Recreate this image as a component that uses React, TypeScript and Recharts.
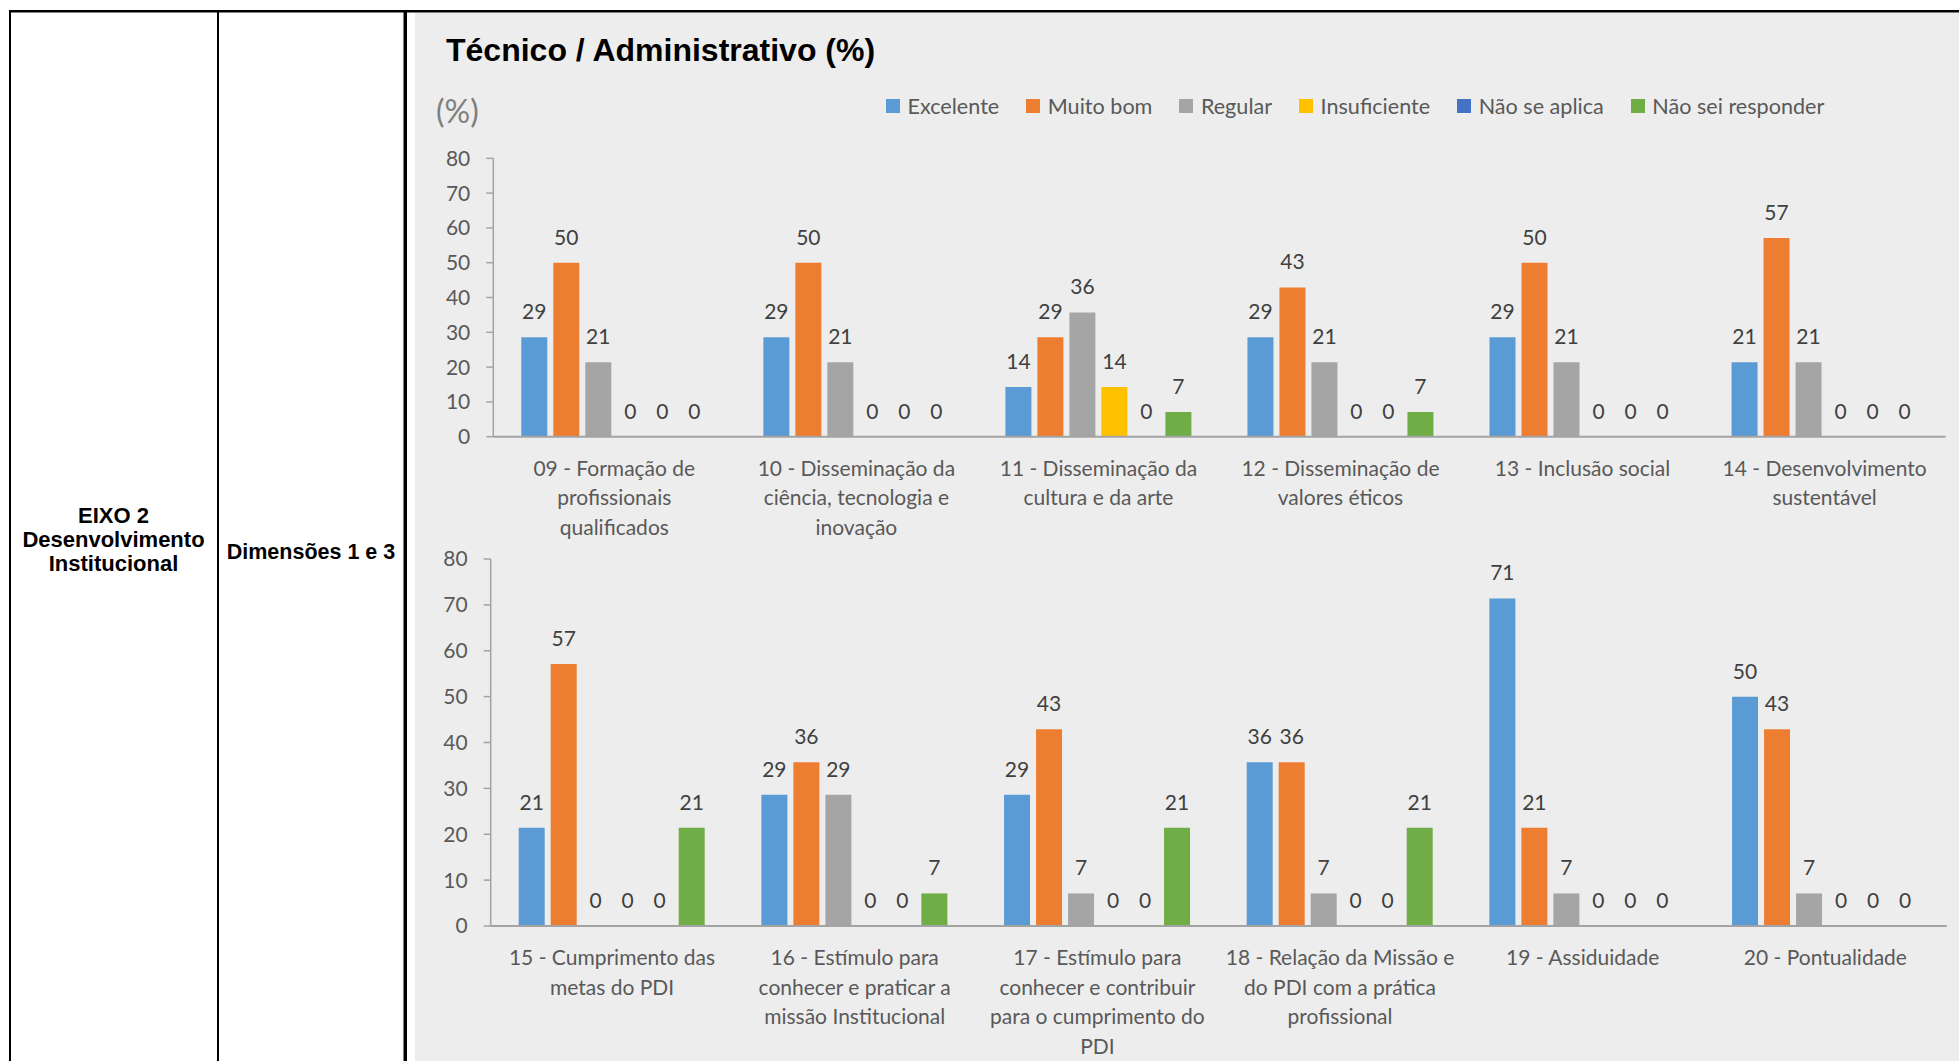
import {
  BarChart,
  Bar,
  XAxis,
  YAxis,
  LabelList,
  Legend,
} from "recharts";

// Série / categorias (em %)
const seriesKeys = ["excelente", "muitoBom", "regular", "insuficiente", "naoAplica", "naoSei"];
const seriesNames = ["Excelente", "Muito bom", "Regular", "Insuficiente", "Não se aplica", "Não sei responder"];
const seriesColors = ["#5B9BD5", "#ED7D31", "#A5A5A5", "#FFC000", "#4472C4", "#70AD47"];

const topCategories = [
  "09 - Formação de\nprofissionais\nqualificados",
  "10 - Disseminação da\nciência, tecnologia e\ninovação",
  "11 - Disseminação da\ncultura e da arte",
  "12 - Disseminação de\nvalores éticos",
  "13 - Inclusão social",
  "14 - Desenvolvimento\nsustentável",
];
const topExcelente = [28.6, 28.6, 14.3, 28.6, 28.6, 21.4];
const topMuitoBom = [50, 50, 28.6, 42.9, 50, 57.1];
const topRegular = [21.4, 21.4, 35.7, 21.4, 21.4, 21.4];
const topInsuficiente = [0, 0, 14.3, 0, 0, 0];
const topNaoAplica = [0, 0, 0, 0, 0, 0];
const topNaoSei = [0, 0, 7.1, 7.1, 0, 0];

const bottomCategories = [
  "15 - Cumprimento das\nmetas do PDI",
  "16 - Estímulo para\nconhecer e praticar a\nmissão Institucional",
  "17 - Estímulo para\nconhecer e contribuir\npara o cumprimento do\nPDI",
  "18 - Relação da Missão e\ndo PDI com a prática\nprofissional",
  "19 - Assiduidade",
  "20 - Pontualidade",
];
const bottomExcelente = [21.4, 28.6, 28.6, 35.7, 71.4, 50];
const bottomMuitoBom = [57.1, 35.7, 42.9, 35.7, 21.4, 42.9];
const bottomRegular = [0, 28.6, 7.1, 7.1, 7.1, 7.1];
const bottomInsuficiente = [0, 0, 0, 0, 0, 0];
const bottomNaoAplica = [0, 0, 0, 0, 0, 0];
const bottomNaoSei = [21.4, 7.1, 21.4, 21.4, 0, 0];

const yTicks = [0, 10, 20, 30, 40, 50, 60, 70, 80];

const FONT = "Lato, 'Open Sans', sans-serif";
const AXIS_GREY = "#A3A3A3";

function buildRows(cats: string[], cols: number[][]) {
  return cats.map((name, i) => {
    const row: Record<string, any> = { name };
    seriesKeys.forEach((k, s) => {
      row[k] = cols[s][i];
    });
    return row;
  });
}

const topRows = buildRows(topCategories, [
  topExcelente, topMuitoBom, topRegular, topInsuficiente, topNaoAplica, topNaoSei,
]);
const bottomRows = buildRows(bottomCategories, [
  bottomExcelente, bottomMuitoBom, bottomRegular, bottomInsuficiente, bottomNaoAplica, bottomNaoSei,
]);

function CategoryTick(props: any) {
  const { x, y, payload } = props;
  const lines = String(payload.value).split("\n");
  return (
    <text x={x} y={y + 39} textAnchor="middle" fill="#595959" fontSize={21} fontFamily={FONT}>
      {lines.map((l, i) => (
        <tspan key={i} x={x} dy={i === 0 ? 0 : 29.5}>
          {l}
        </tspan>
      ))}
    </text>
  );
}

function renderLegend(props: any) {
  // keep the series order of the chart (Excel order), not alphabetical
  const items = [...(props.payload || [])].sort(
    (a: any, b: any) => seriesNames.indexOf(a.value) - seriesNames.indexOf(b.value)
  );
  return (
    <div
      style={{
        display: "flex",
        alignItems: "center",
        whiteSpace: "nowrap",
        fontFamily: FONT,
        fontSize: 21.6,
        lineHeight: "28px",
        color: "#595959",
      }}
    >
      {items.map((p: any) => (
        <span key={p.value} style={{ display: "flex", alignItems: "center", marginRight: 27 }}>
          <span style={{ width: 14, height: 14, background: p.color, marginRight: 7.5 }} />
          {p.value}
        </span>
      ))}
    </div>
  );
}

function Panel({
  rows,
  top,
  height,
  marginTop,
  marginRight,
  yWidth,
  xHeight,
  withLegend,
}: {
  rows: any[];
  top: number;
  height: number;
  marginTop: number;
  marginRight: number;
  yWidth: number;
  xHeight: number;
  withLegend?: boolean;
}) {
  return (
    <div style={{ position: "absolute", left: 415, top, width: 1544, height }}>
      <BarChart
        width={1544}
        height={height}
        data={rows}
        margin={{ top: marginTop, right: marginRight, bottom: 0, left: 0 }}
        barSize={26}
        barGap={6}
      >
        <XAxis
          dataKey="name"
          interval={0}
          tickLine={false}
          tickSize={0}
          tickMargin={0}
          height={xHeight}
          axisLine={{ stroke: AXIS_GREY, strokeWidth: 2 }}
          tick={<CategoryTick />}
        />
        <YAxis
          domain={[0, 80]}
          ticks={yTicks}
          width={yWidth}
          tickSize={7}
          tickMargin={16}
          axisLine={{ stroke: AXIS_GREY, strokeWidth: 1.5 }}
          tickLine={{ stroke: AXIS_GREY, strokeWidth: 1.5 }}
          tick={{ fill: "#595959", fontSize: 21, fontFamily: FONT }}
        />
        {withLegend && (
          <Legend
            layout="horizontal"
            verticalAlign="middle"
            align="center"
            content={renderLegend}
            wrapperStyle={{ top: 92 - top, left: 886 - 415, width: "auto", height: 28 }}
          />
        )}
        {seriesKeys.map((k, s) => (
          <Bar
            key={k}
            dataKey={k}
            name={seriesNames[s]}
            fill={seriesColors[s]}
            minPointSize={0.01}
            isAnimationActive={false}
          >
            <LabelList
              dataKey={k}
              position="top"
              offset={18}
              formatter={(v: any) => String(Math.round(Number(v)))}
              fill="#404040"
              fontSize={21}
              fontFamily={FONT}
            />
          </Bar>
        ))}
      </BarChart>
    </div>
  );
}

export default function App() {
  return (
    <div
      style={{
        position: "absolute",
        left: 0,
        top: 0,
        width: 1959,
        height: 1061,
        background: "#ffffff",
        overflow: "hidden",
      }}
    >
      <svg width={1959} height={1061} style={{ position: "absolute", left: 0, top: 0 }}>
        <rect x={415} y={12.5} width={1544} height={1049} fill="#EDEDED" />
        <rect x={9} y={10} width={1950} height={2.5} fill="#000" />
        <rect x={9} y={10} width={2} height={1051} fill="#000" />
        <rect x={217} y={10} width={2} height={1051} fill="#000" />
        <rect x={403.5} y={10} width={3.5} height={1051} fill="#000" />
        <text
          x={113.5}
          textAnchor="middle"
          fontFamily="'Liberation Sans', Arial, sans-serif"
          fontWeight="bold"
          fontSize={22}
          fill="#000"
        >
          <tspan x={113.5} y={523.3}>EIXO 2</tspan>
          <tspan x={113.5} y={547}>Desenvolvimento</tspan>
          <tspan x={113.5} y={570.7}>Institucional</tspan>
        </text>
        <text
          x={311}
          y={559.3}
          textAnchor="middle"
          fontFamily="'Liberation Sans', Arial, sans-serif"
          fontWeight="bold"
          fontSize={21.5}
          fill="#000"
        >
          Dimensões 1 e 3
        </text>
        <text
          x={446}
          y={61}
          fontFamily="'Liberation Sans', Arial, sans-serif"
          fontWeight="bold"
          fontSize={32}
          fill="#000"
        >
          Técnico / Administrativo (%)
        </text>
        <text x={436} y={123} fontFamily={FONT} fontSize={32} fill="#7F7F7F">
          (%)
        </text>
      </svg>
      <Panel
        rows={topRows}
        top={140}
        height={420}
        marginTop={18.3}
        marginRight={13.4}
        yWidth={78.3}
        xHeight={123.3}
        withLegend
      />
      <Panel
        rows={bottomRows}
        top={540}
        height={521}
        marginTop={19}
        marginRight={12.3}
        yWidth={75.7}
        xHeight={135}
      />
    </div>
  );
}
